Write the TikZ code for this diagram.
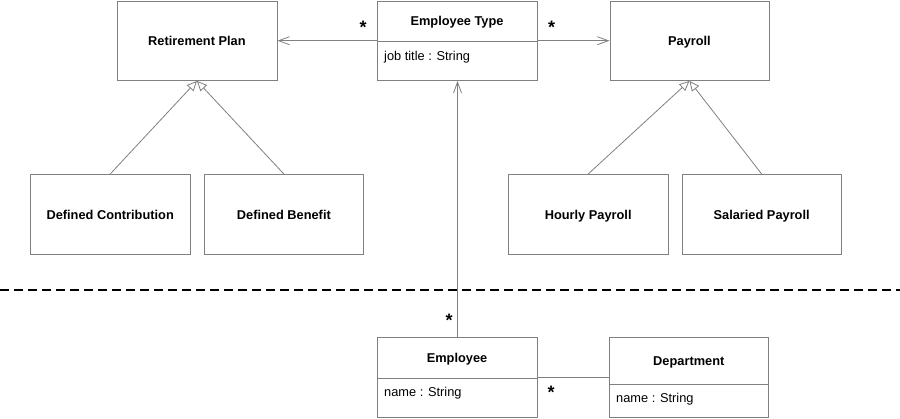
\documentclass[tikz,border=0pt]{standalone}
\usepackage{fontspec}
\setmainfont{Liberation Sans}
\usetikzlibrary{arrows.meta}
\definecolor{linegray}{RGB}{128,128,128}
\begin{document}
\begin{tikzpicture}[x=1pt,y=-1pt,
  box/.style={draw=linegray, line width=0.9pt, inner sep=0pt, anchor=north west},
  title/.style={font=\fontsize{12.8}{15}\selectfont\bfseries, inner sep=0pt, text height=9.2pt, text depth=0pt},
  attr/.style={font=\fontsize{12.8}{15}\selectfont, inner sep=0pt, anchor=west, text height=9.2pt, text depth=0pt},
  mult/.style={font=\fontsize{18}{18}\selectfont\bfseries, inner sep=0pt},
  gen/.style={draw=linegray, line width=0.8pt, -{Triangle[open,length=10pt,width=9pt,fill=white]}},
  nav/.style={draw=linegray, line width=0.8pt, -{Straight Barb[length=11pt,width=8pt]}},
  plain/.style={draw=linegray, line width=0.8pt},
  sep/.style={draw=black, line width=1.5pt, dash pattern=on 9pt off 5pt}]
\useasboundingbox (0,0) rectangle (900,418);
\fill[white] (0,0) rectangle (900,418);

% top row
\node[box, minimum width=160pt, minimum height=79.5pt] (rp) at (116.5,0.5) {};
\node[title] at (rp.center) {Retirement Plan};

\node[box, minimum width=159.5pt, minimum height=79.5pt] (et) at (377.3,0.5) {};
\draw[plain] (377.3,41.7) -- (536.8,41.7);
\node[title] (ett) at (457,20.5) {Employee Type};
\node[attr] (eta) at (384,56) {job title : String};

\node[box, minimum width=159pt, minimum height=79.5pt] (pr) at (609.5,0.5) {};
\node[title] at (pr.center) {Payroll};

% subclasses
\node[box, minimum width=159.5pt, minimum height=80pt] (dc) at (30,174) {};
\node[title] at (dc.center) {Defined Contribution};
\node[box, minimum width=159.5pt, minimum height=80pt] (db) at (203.7,174) {};
\node[title] at (db.center) {Defined Benefit};
\node[box, minimum width=159.5pt, minimum height=80pt] (hp) at (508,174) {};
\node[title] at (hp.center) {Hourly Payroll};
\node[box, minimum width=159pt, minimum height=80pt] (sp) at (681.7,174) {};
\node[title] at (sp.center) {Salaried Payroll};

% bottom row
\node[box, minimum width=159.5pt, minimum height=79.5pt] (emp) at (377.3,337.3) {};
\draw[plain] (377.3,378.7) -- (536.8,378.7);
\node[title] at (457,358) {Employee};
\node[attr] at (384,392) {name : String};

\node[box, minimum width=159pt, minimum height=79.5pt] (dep) at (609.3,337.3) {};
\draw[plain] (609.3,384.3) -- (768.3,384.3);
\node[title] at (688.8,360.5) {Department};
\node[attr] at (616,398) {name : String};

% separator
\coordinate (sl) at (0,290);
\coordinate (sr) at (900,290);
\draw[sep] (sl) -- (sr);

% connectors
\draw[nav] (et.west) -- (rp.east);
\draw[nav] (et.east) -- (pr.west);
\draw[gen] (dc.north) -- (rp.south);
\draw[gen] (db.north) -- (rp.south);
\draw[gen] (hp.north) -- (pr.south);
\draw[gen] (sp.north) -- (pr.south);
\draw[nav] (emp.north) -- (et.south);
\draw[plain] (emp.east) -- (dep.west);

% multiplicities
\node[mult] at (363,27) {*};
\node[mult] at (551.5,27) {*};
\node[mult] at (449,320) {*};
\node[mult] at (551,392) {*};
\end{tikzpicture}
\end{document}
